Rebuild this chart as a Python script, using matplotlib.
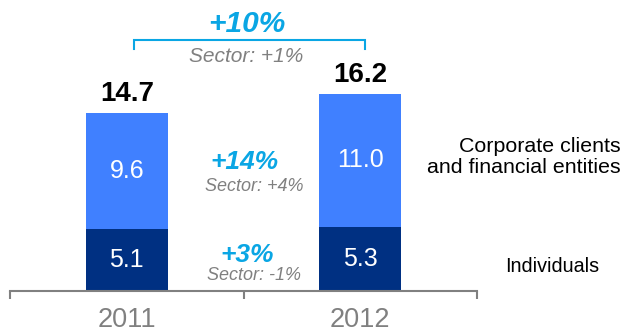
import matplotlib
matplotlib.use("Agg")
import matplotlib.pyplot as plt

plt.rcParams["font.family"] = ["Liberation Sans", "DejaVu Sans"]

years = ["2011", "2012"]
individuals = [5.1, 5.3]
corporate = [9.6, 11.0]
totals = [14.7, 16.2]

total_growth = "+10%"
total_sector = "Sector: +1%"
corporate_growth = "+14%"
corporate_sector = "Sector: +4%"
individuals_growth = "+3%"
individuals_sector = "Sector: -1%"

dark_blue = "#003082"
light_blue = "#4080FF"
cyan = "#0AA6E4"
gray = "#808080"

fig = plt.figure(figsize=(6.23, 3.33), dpi=100)
ax = fig.add_axes([10 / 623, 42 / 333, 467 / 623, 291 / 333])

xs = range(len(years))
width = 0.352
ax.bar(xs, individuals, width, color=dark_blue)
ax.bar(xs, corporate, width, bottom=individuals, color=light_blue)

for x, ind, corp, tot in zip(xs, individuals, corporate, totals):
    ax.text(x, ind / 2, f"{ind:.1f}", ha="center", va="center",
            color="white", fontsize=18)
    ax.text(x, ind + corp / 2, f"{corp:.1f}", ha="center", va="center",
            color="white", fontsize=18)
    ax.annotate(f"{tot:.1f}", (x, tot), xytext=(0, 9), textcoords="offset points",
                ha="center", va="baseline", fontsize=20, fontweight="bold")

# growth bracket over both totals
bx0, bx1, by, bdrop = 0.03, 1.02, 20.74, 0.75
ax.plot([bx0, bx0, bx1, bx1], [by - bdrop, by, by, by - bdrop],
        color=cyan, lw=1.5, solid_joinstyle="miter", clip_on=False)
ax.text(0.515, 22.1, total_growth, ha="center", va="center", color=cyan,
        fontsize=21.5, fontweight="bold", fontstyle="italic")
ax.text(0.51, 19.34, total_sector, ha="center", va="center", color=gray,
        fontsize=15, fontstyle="italic")

# per-segment growth between the bars
ax.text(0.505, 10.66, corporate_growth, ha="center", va="center", color=cyan,
        fontsize=19, fontweight="bold", fontstyle="italic")
ax.text(0.545, 8.6, corporate_sector, ha="center", va="center", color=gray,
        fontsize=13, fontstyle="italic")
ax.text(0.515, 2.98, individuals_growth, ha="center", va="center", color=cyan,
        fontsize=19, fontweight="bold", fontstyle="italic")
ax.text(0.545, 1.24, individuals_sector, ha="center", va="center", color=gray,
        fontsize=13, fontstyle="italic")

# segment names on the right
fig.text(621 / 623, 1 - 157 / 333, "Corporate clients\nand financial entities",
         ha="right", va="center", multialignment="right", fontsize=15.4,
         linespacing=1.15)
fig.text(552 / 623, 1 - 266 / 333, "Individuals", ha="center", va="center",
         fontsize=14.2)

ax.set_xlim(-0.5, 1.5)
ax.set_ylim(0, 24.05)
for side in ("top", "right", "left"):
    ax.spines[side].set_visible(False)
ax.spines["bottom"].set_color(gray)
ax.spines["bottom"].set_linewidth(1.5)
ax.set_yticks([])
ax.set_xticks([-0.5, 0.5, 1.5])
ax.set_xticklabels([])
ax.tick_params(axis="x", which="major", length=5.5, width=1.5, color=gray)
ax.set_xticks(list(xs), minor=True)
ax.set_xticklabels(years, minor=True)
ax.tick_params(axis="x", which="minor", length=0, pad=11.5, labelsize=19.5,
               labelcolor=gray)

fig.savefig("out.png", dpi=100)
